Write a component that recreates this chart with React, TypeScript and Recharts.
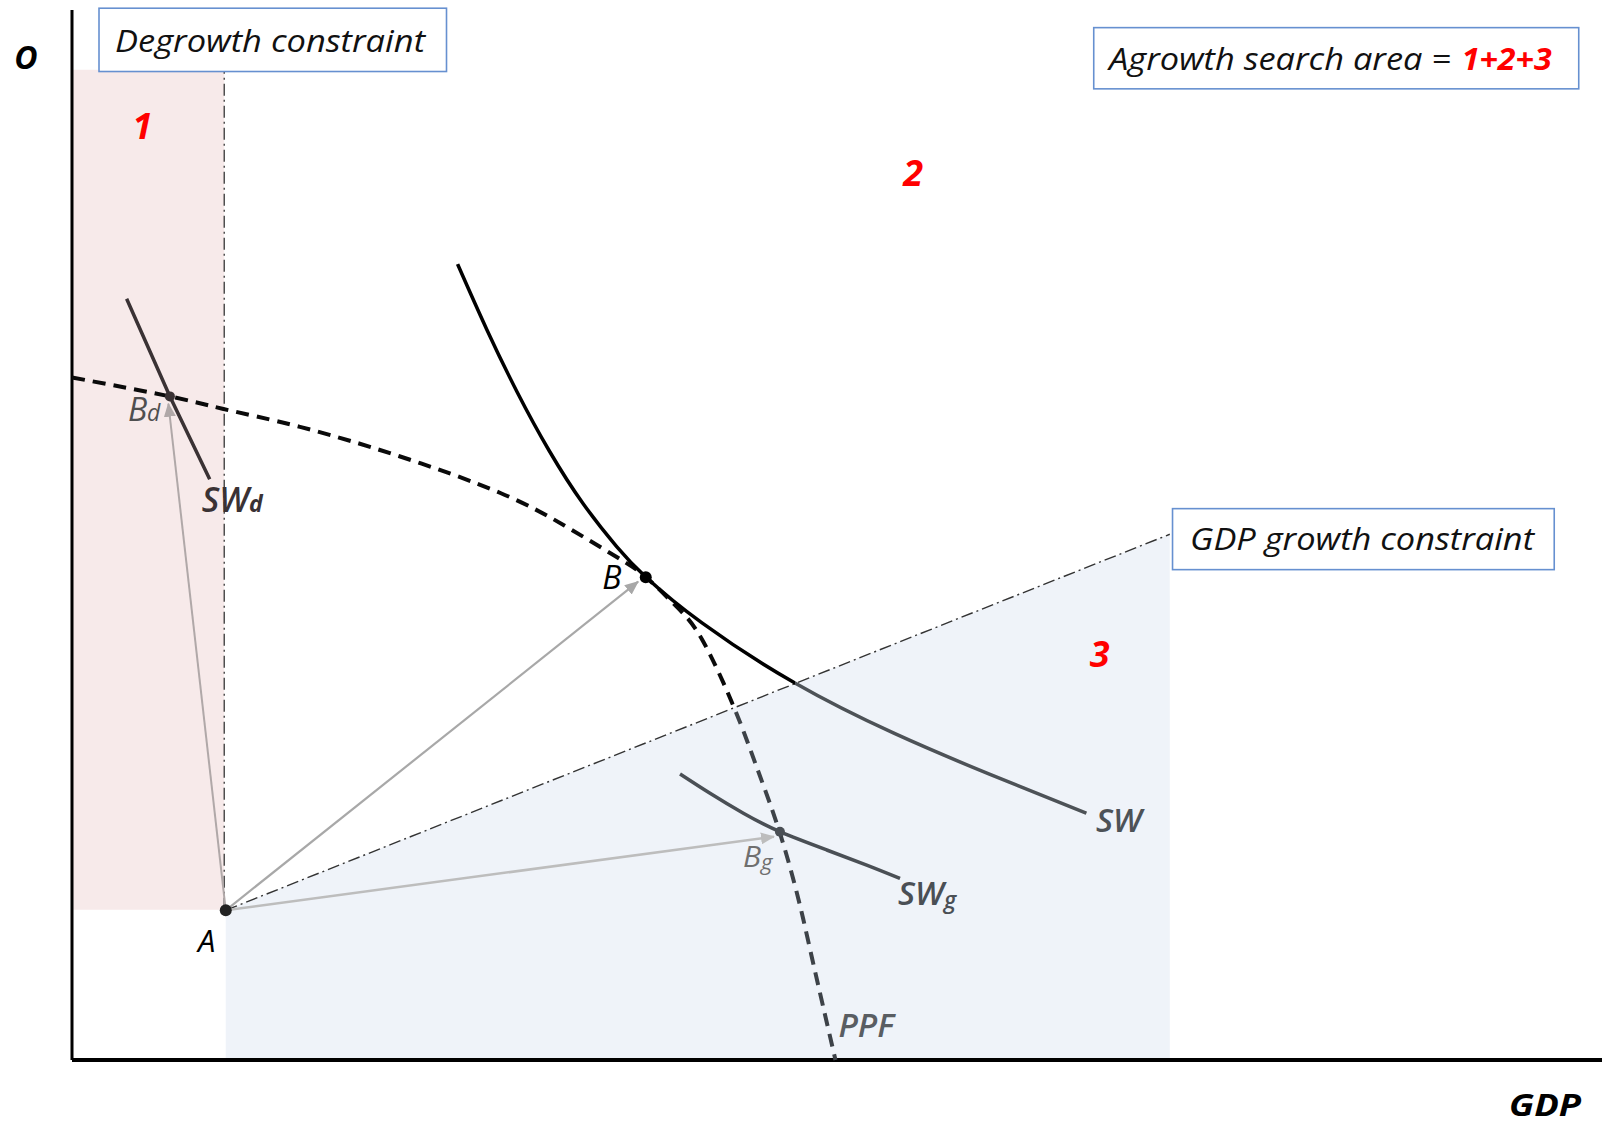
import React from 'react';
import {
  ComposedChart, Line, Area, Scatter, Cell, XAxis, YAxis,
  ReferenceArea, ReferenceLine, ReferenceDot,
} from 'recharts';

const FONT = '"Open Sans", "Noto Sans", sans-serif';

// chart units: GDP across (0-100), O up (0-100)
const ppf = [
  { x: 0, y: 65.0 }, { x: 6.4, y: 63.2 }, { x: 9.9, y: 62.0 }, { x: 14.9, y: 60.3 },
  { x: 21.4, y: 57.5 }, { x: 28.0, y: 54.0 }, { x: 32.3, y: 50.8 }, { x: 35.6, y: 47.9 },
  { x: 37.5, y: 46.0 }, { x: 39.5, y: 43.2 }, { x: 41.2, y: 40.0 }, { x: 43.25, y: 33.65 },
  { x: 44.75, y: 27.9 }, { x: 46.25, y: 21.7 }, { x: 47.5, y: 15.2 }, { x: 48.4, y: 9.5 },
  { x: 49.9, y: 0 },
];
const sw = [
  { x: 25.2, y: 75.8 }, { x: 27.1, y: 69.6 }, { x: 29.1, y: 63.6 }, { x: 31.2, y: 58.0 },
  { x: 33.4, y: 53.0 }, { x: 35.6, y: 48.9 }, { x: 37.5, y: 46.0 }, { x: 41.2, y: 41.6 },
  { x: 47.25, y: 35.9 }, { x: 53.75, y: 31.1 }, { x: 60.0, y: 27.2 }, { x: 66.3, y: 23.5 },
];
const swG = [
  { x: 39.74, y: 27.24 }, { x: 41.7, y: 25.4 }, { x: 43.88, y: 23.5 }, { x: 46.27, y: 21.74 },
  { x: 49.33, y: 20.0 }, { x: 51.94, y: 18.57 }, { x: 54.12, y: 17.3 },
];
const swD = [{ x: 3.57, y: 72.5 }, { x: 6.4, y: 63.2 }, { x: 9.0, y: 55.3 }];

const degrowthLine = [{ x: 9.95, y: 14.3 }, { x: 9.95, y: 94.3 }];
const growthLine = [{ x: 10.05, y: 14.26 }, { x: 71.75, y: 50.07 }];

const arrowToBd = [{ x: 10.05, y: 14.26 }, { x: 6.3, y: 62.5 }];
const arrowToB = [{ x: 10.05, y: 14.26 }, { x: 37.0, y: 45.55 }];
const arrowToBg = [{ x: 10.05, y: 14.26 }, { x: 45.88, y: 21.27 }];

const points = [
  { name: 'A', x: 10.05, y: 14.26 },
  { name: 'B', x: 37.5, y: 45.97 },
  { name: 'Bd', x: 6.4, y: 63.2 },
  { name: 'Bg', x: 46.27, y: 21.74 },
];
const pointColors = ['#222', '#000', '#3a3234', '#4a4f55'];

const regions = [
  { text: '1', x: 4.6, y: 87.75 },
  { text: '2', x: 54.97, y: 83.24 },
  { text: '3', x: 67.16, y: 37.46 },
];

const note = (key: string, x: number, y: number, draw: (cx: number, cy: number) => React.ReactNode) => (
  <ReferenceDot
    key={key}
    x={x}
    y={y}
    r={0}
    ifOverflow="visible"
    shape={(p: any) => <g>{draw(p.cx, p.cy)}</g>}
  />
);

const box = (cx: number, cy: number, w: number, h: number) => (
  <rect x={cx} y={cy} width={w} height={h} fill="#fff" stroke="#6690d0" strokeWidth={1.6} />
);

const italic = { fontFamily: FONT, fontStyle: 'italic' as const };

export default function App() {
  return (
    <div style={{ position: 'absolute', left: 0, top: 0, background: '#fff' }}>
      <ComposedChart width={1602} height={1124} margin={{ top: 10, right: 0, bottom: 64, left: 72 }}>
        <defs>
          {[['arB', '#a8a8a8'], ['arBg', '#bdbdbd'], ['arBd', '#b0a8a8']].map(([id, c]) => (
            <marker key={id} id={id} viewBox="0 0 14 12" refX="13" refY="6" markerWidth="14" markerHeight="12"
              markerUnits="userSpaceOnUse" orient="auto">
              <path d="M0,0 L14,6 L0,12 z" fill={c} />
            </marker>
          ))}
          {/* curves turn grey where they enter area 3 */}
          <linearGradient id="swStroke" gradientUnits="userSpaceOnUse" x1="0" y1="0" x2="1602" y2="0">
            <stop offset="0.496" stopColor="#000" />
            <stop offset="0.496" stopColor="#4d5257" />
          </linearGradient>
          <linearGradient id="ppfStroke" gradientUnits="userSpaceOnUse" x1="0" y1="0" x2="1602" y2="0">
            <stop offset="0.458" stopColor="#0a0a0a" />
            <stop offset="0.458" stopColor="#3d4248" />
          </linearGradient>
        </defs>
        <XAxis type="number" dataKey="x" domain={[0, 100]} hide />
        <YAxis type="number" dataKey="y" domain={[0, 100]} hide />

        <ReferenceArea x1={0} x2={9.95} y1={14.3} y2={94.3} fill="#f7eaea" fillOpacity={1} stroke="none" />
        <Area data={growthLine} dataKey="y" type="linear" fill="#eff3f9" fillOpacity={1} stroke="none"
          dot={false} activeDot={false} isAnimationActive={false} />

        <ReferenceLine x={0} stroke="#000" strokeWidth={3} />
        <ReferenceLine y={0} stroke="#000" strokeWidth={4} />

        <Line data={degrowthLine} dataKey="y" type="linear" stroke="#444" strokeWidth={1.4}
          strokeDasharray="12 4 2 4" dot={false} activeDot={false} isAnimationActive={false} />
        <Line data={growthLine} dataKey="y" type="linear" stroke="#333" strokeWidth={1.4}
          strokeDasharray="12 4 2 4" dot={false} activeDot={false} isAnimationActive={false} />

        <Line data={arrowToBd} dataKey="y" type="linear" stroke="#b0a8a8" strokeWidth={2}
          markerEnd="url(#arBd)" dot={false} activeDot={false} isAnimationActive={false} />
        <Line data={arrowToB} dataKey="y" type="linear" stroke="#a8a8a8" strokeWidth={2.2}
          markerEnd="url(#arB)" dot={false} activeDot={false} isAnimationActive={false} />
        <Line data={arrowToBg} dataKey="y" type="linear" stroke="#bdbdbd" strokeWidth={2.5}
          markerEnd="url(#arBg)" dot={false} activeDot={false} isAnimationActive={false} />

        <Line data={ppf} dataKey="y" type="natural" stroke="url(#ppfStroke)" strokeWidth={4}
          strokeDasharray="13 8" dot={false} activeDot={false} isAnimationActive={false} />
        <Line data={sw} dataKey="y" type="natural" stroke="url(#swStroke)" strokeWidth={3.5}
          dot={false} activeDot={false} isAnimationActive={false} />
        <Line data={swG} dataKey="y" type="natural" stroke="#4a4f55" strokeWidth={3.5}
          dot={false} activeDot={false} isAnimationActive={false} />
        <Line data={swD} dataKey="y" type="linear" stroke="#3a3234" strokeWidth={3.5}
          dot={false} activeDot={false} isAnimationActive={false} />

        <Scatter data={points} isAnimationActive={false}
          shape={(p: any) => <circle cx={p.cx} cy={p.cy} r={p.payload.name === 'A' || p.payload.name === 'B' ? 6 : 5} fill={p.fill} />}>
          {points.map((pt, i) => <Cell key={pt.name} fill={pointColors[i]} />)}
        </Scatter>

        {regions.map((r) => note('r' + r.text, r.x, r.y, (cx, cy) => (
          <text x={cx} y={cy} textAnchor="middle" fill="#ff0000" fontSize={36} fontWeight={700} style={italic}>
            {r.text}
          </text>
        )))}

        {note('axO', 0, 100, (cx, cy) => (
          <text x={cx - 46} y={cy + 59} textAnchor="middle" fill="#000" fontSize={32} fontWeight={700} style={italic}>O</text>
        ))}
        {note('axGDP', 100, 0, (cx, cy) => (
          <text x={cx - 21} y={cy + 56} textAnchor="end" fill="#000" fontSize={31} fontWeight={700} style={italic}
            textLength={72} lengthAdjust="spacingAndGlyphs">GDP</text>
        ))}

        {note('boxDeg', 1.765, 100.17, (cx, cy) => (
          <>
            {box(cx, cy, 347.5, 63.3)}
            <text x={cx + 16} y={cy + 43.3} fill="#111" fontSize={31} style={italic}
              textLength={310} lengthAdjust="spacingAndGlyphs">Degrowth constraint</text>
          </>
        ))}
        {note('boxAgr', 66.78, 98.32, (cx, cy) => (
          <>
            {box(cx, cy, 485, 61.2)}
            <text x={cx + 15.3} y={cy + 42.4} fill="#111" fontSize={31} style={italic}
              textLength={342} lengthAdjust="spacingAndGlyphs">Agrowth search area =</text>
            <text x={cx + 368} y={cy + 42.4} fill="#ff0000" fontSize={31} fontWeight={700} style={italic}
              textLength={90} lengthAdjust="spacingAndGlyphs">1+2+3</text>
          </>
        ))}
        {note('boxGdp', 71.93, 52.51, (cx, cy) => (
          <>
            {box(cx, cy, 381.7, 61)}
            <text x={cx + 17.5} y={cy + 41} fill="#111" fontSize={31} style={italic}
              textLength={344} lengthAdjust="spacingAndGlyphs">GDP growth constraint</text>
          </>
        ))}

        {note('lA', points[0].x, points[0].y, (cx, cy) => (
          <text x={cx - 19} y={cy + 42} textAnchor="middle" fill="#000" fontSize={31} style={italic}>A</text>
        ))}
        {note('lB', points[1].x, points[1].y, (cx, cy) => (
          <text x={cx - 34} y={cy + 12} textAnchor="middle" fill="#000" fontSize={32} style={italic}>B</text>
        ))}
        {note('lBd', points[2].x, points[2].y, (cx, cy) => (
          <text x={cx - 42} y={cy + 25} fill="#4f4f4f" fontSize={32} style={italic}>
            B<tspan fontSize={23}>d</tspan>
          </text>
        ))}
        {note('lBg', points[3].x, points[3].y, (cx, cy) => (
          <text x={cx - 37} y={cy + 35} fill="#6f6f6f" fontSize={30} style={italic}>
            B<tspan fontSize={22} dy={3}>g</tspan>
          </text>
        ))}
        {note('lSWd', swD[2].x, swD[2].y, (cx, cy) => (
          <text x={cx - 8} y={cy + 32.6} fill="#3a3234" fontSize={34} fontWeight={600} style={italic}>
            SW<tspan fontSize={23} fontWeight={700}>d</tspan>
          </text>
        ))}
        {note('lSW', sw[11].x, sw[11].y, (cx, cy) => (
          <text x={cx + 9.6} y={cy + 18.4} fill="#4d5257" fontSize={33} fontWeight={600} style={italic}>SW</text>
        ))}
        {note('lSWg', swG[6].x, swG[6].y, (cx, cy) => (
          <text x={cx - 2} y={cy + 27} fill="#4a4f55" fontSize={33} fontWeight={600} style={italic}>
            SW<tspan fontSize={23} dy={3}>g</tspan>
          </text>
        ))}
        {note('lPPF', ppf[16].x, ppf[16].y, (cx, cy) => (
          <text x={cx + 3} y={cy - 23.5} fill="#595d62" fontSize={33} fontWeight={600} style={italic}>PPF</text>
        ))}
      </ComposedChart>
    </div>
  );
}
